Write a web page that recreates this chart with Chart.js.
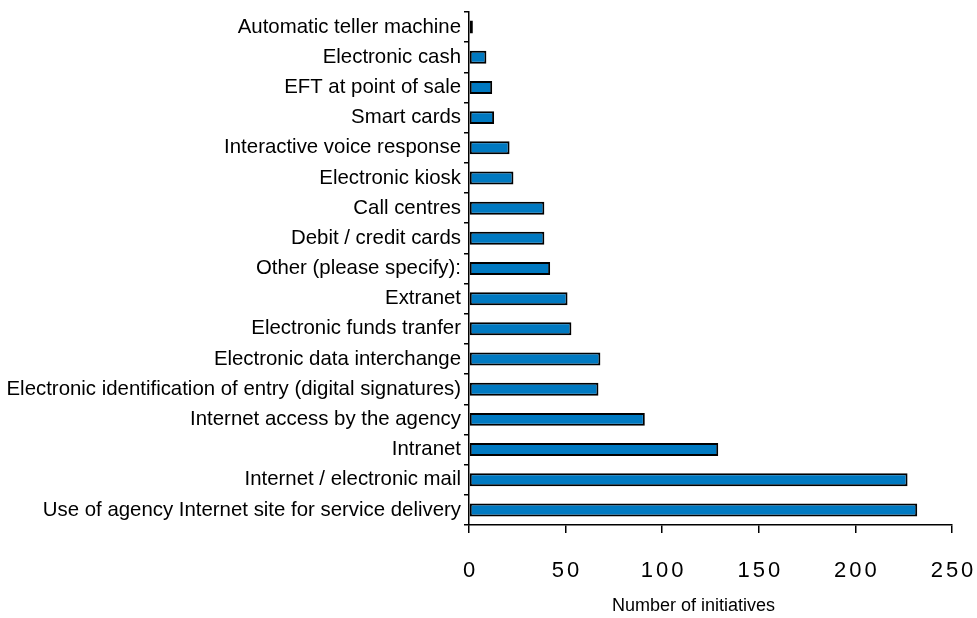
<!DOCTYPE html>
<html>
<head>
<meta charset="utf-8">
<script src="https://cdn.jsdelivr.net/npm/chart.js@4/dist/chart.umd.min.js"></script>
<style>
  html, body { margin: 0; padding: 0; background: #fff; }
  #wrap { width: 977px; height: 618px; }
</style>
</head>
<body>
<div id="wrap"><canvas id="chart" width="977" height="618"></canvas></div>
<script>
const categories = [
  "Automatic teller machine",
  "Electronic cash",
  "EFT at point of sale",
  "Smart cards",
  "Interactive voice response",
  "Electronic kiosk",
  "Call centres",
  "Debit / credit cards",
  "Other (please specify):",
  "Extranet",
  "Electronic funds tranfer",
  "Electronic data interchange",
  "Electronic identification of entry (digital signatures)",
  "Internet access by the agency",
  "Intranet",
  "Internet / electronic mail",
  "Use of agency Internet site for service delivery"
];
const initiatives = [2, 9, 12, 13, 21, 23, 39, 39, 42, 51, 53, 68, 67, 91, 129, 227, 232];
const xTicks = [0, 50, 100, 150, 200, 250];

// spaced-out tick numbers and a slightly shifted axis title, like the original
const axisText = {
  id: "axisText",
  beforeDraw(chart) {
    const s = chart.scales.x;
    if (s._patched) return;
    const labels = s.drawLabels.bind(s);
    const title = s.drawTitle.bind(s);
    s.drawLabels = function (area) {
      const c = chart.ctx;
      c.save();
      c.letterSpacing = "3px";
      c.translate(1.5, 0);
      labels(area);
      c.restore();
    };
    s.drawTitle = function (area) {
      const c = chart.ctx;
      c.save();
      c.translate(-17, 0);
      title(area);
      c.restore();
    };
    s._patched = true;
  }
};

new Chart(document.getElementById("chart"), {
  type: "bar",
  data: {
    labels: categories,
    datasets: [{
      data: initiatives,
      backgroundColor: "#0079C1",
      borderColor: "#000",
      borderWidth: 2,
      borderSkipped: false,
      categoryPercentage: 1,
      barPercentage: 0.43
    }]
  },
  options: {
    indexAxis: "y",
    responsive: false,
    animation: false,
    layout: { padding: { top: 12, right: 25, bottom: 0, left: 0 } },
    plugins: { legend: { display: false }, tooltip: { enabled: false } },
    scales: {
      x: {
        min: 0,
        max: 250,
        afterBuildTicks: s => { s.ticks = xTicks.map(v => ({ value: v })); },
        afterFit: s => { s.height = 93; s.paddingLeft = 0; s.paddingRight = 0; },
        grid: { drawOnChartArea: false, drawTicks: true, tickLength: 8, color: "#000", lineWidth: 1.5 },
        border: { color: "#000", width: 1.5 },
        ticks: { color: "#000", padding: 25, maxRotation: 0, font: { family: "Liberation Sans", size: 22 } },
        title: {
          display: true,
          text: "Number of initiatives",
          color: "#000",
          font: { family: "Liberation Sans", size: 18 },
          padding: { top: 14, bottom: 1 }
        }
      },
      y: {
        afterFit: s => { s.width = 469; s.paddingTop = 0; s.paddingBottom = 0; },
        grid: { drawOnChartArea: false, drawTicks: true, tickLength: 5, color: "#000", lineWidth: 1.5, offset: true },
        border: { color: "#000", width: 1.5 },
        ticks: { color: "#000", padding: 3, autoSkip: false, font: { family: "Liberation Sans", size: 20.4 } }
      }
    }
  },
  plugins: [axisText]
});
</script>
</body>
</html>
